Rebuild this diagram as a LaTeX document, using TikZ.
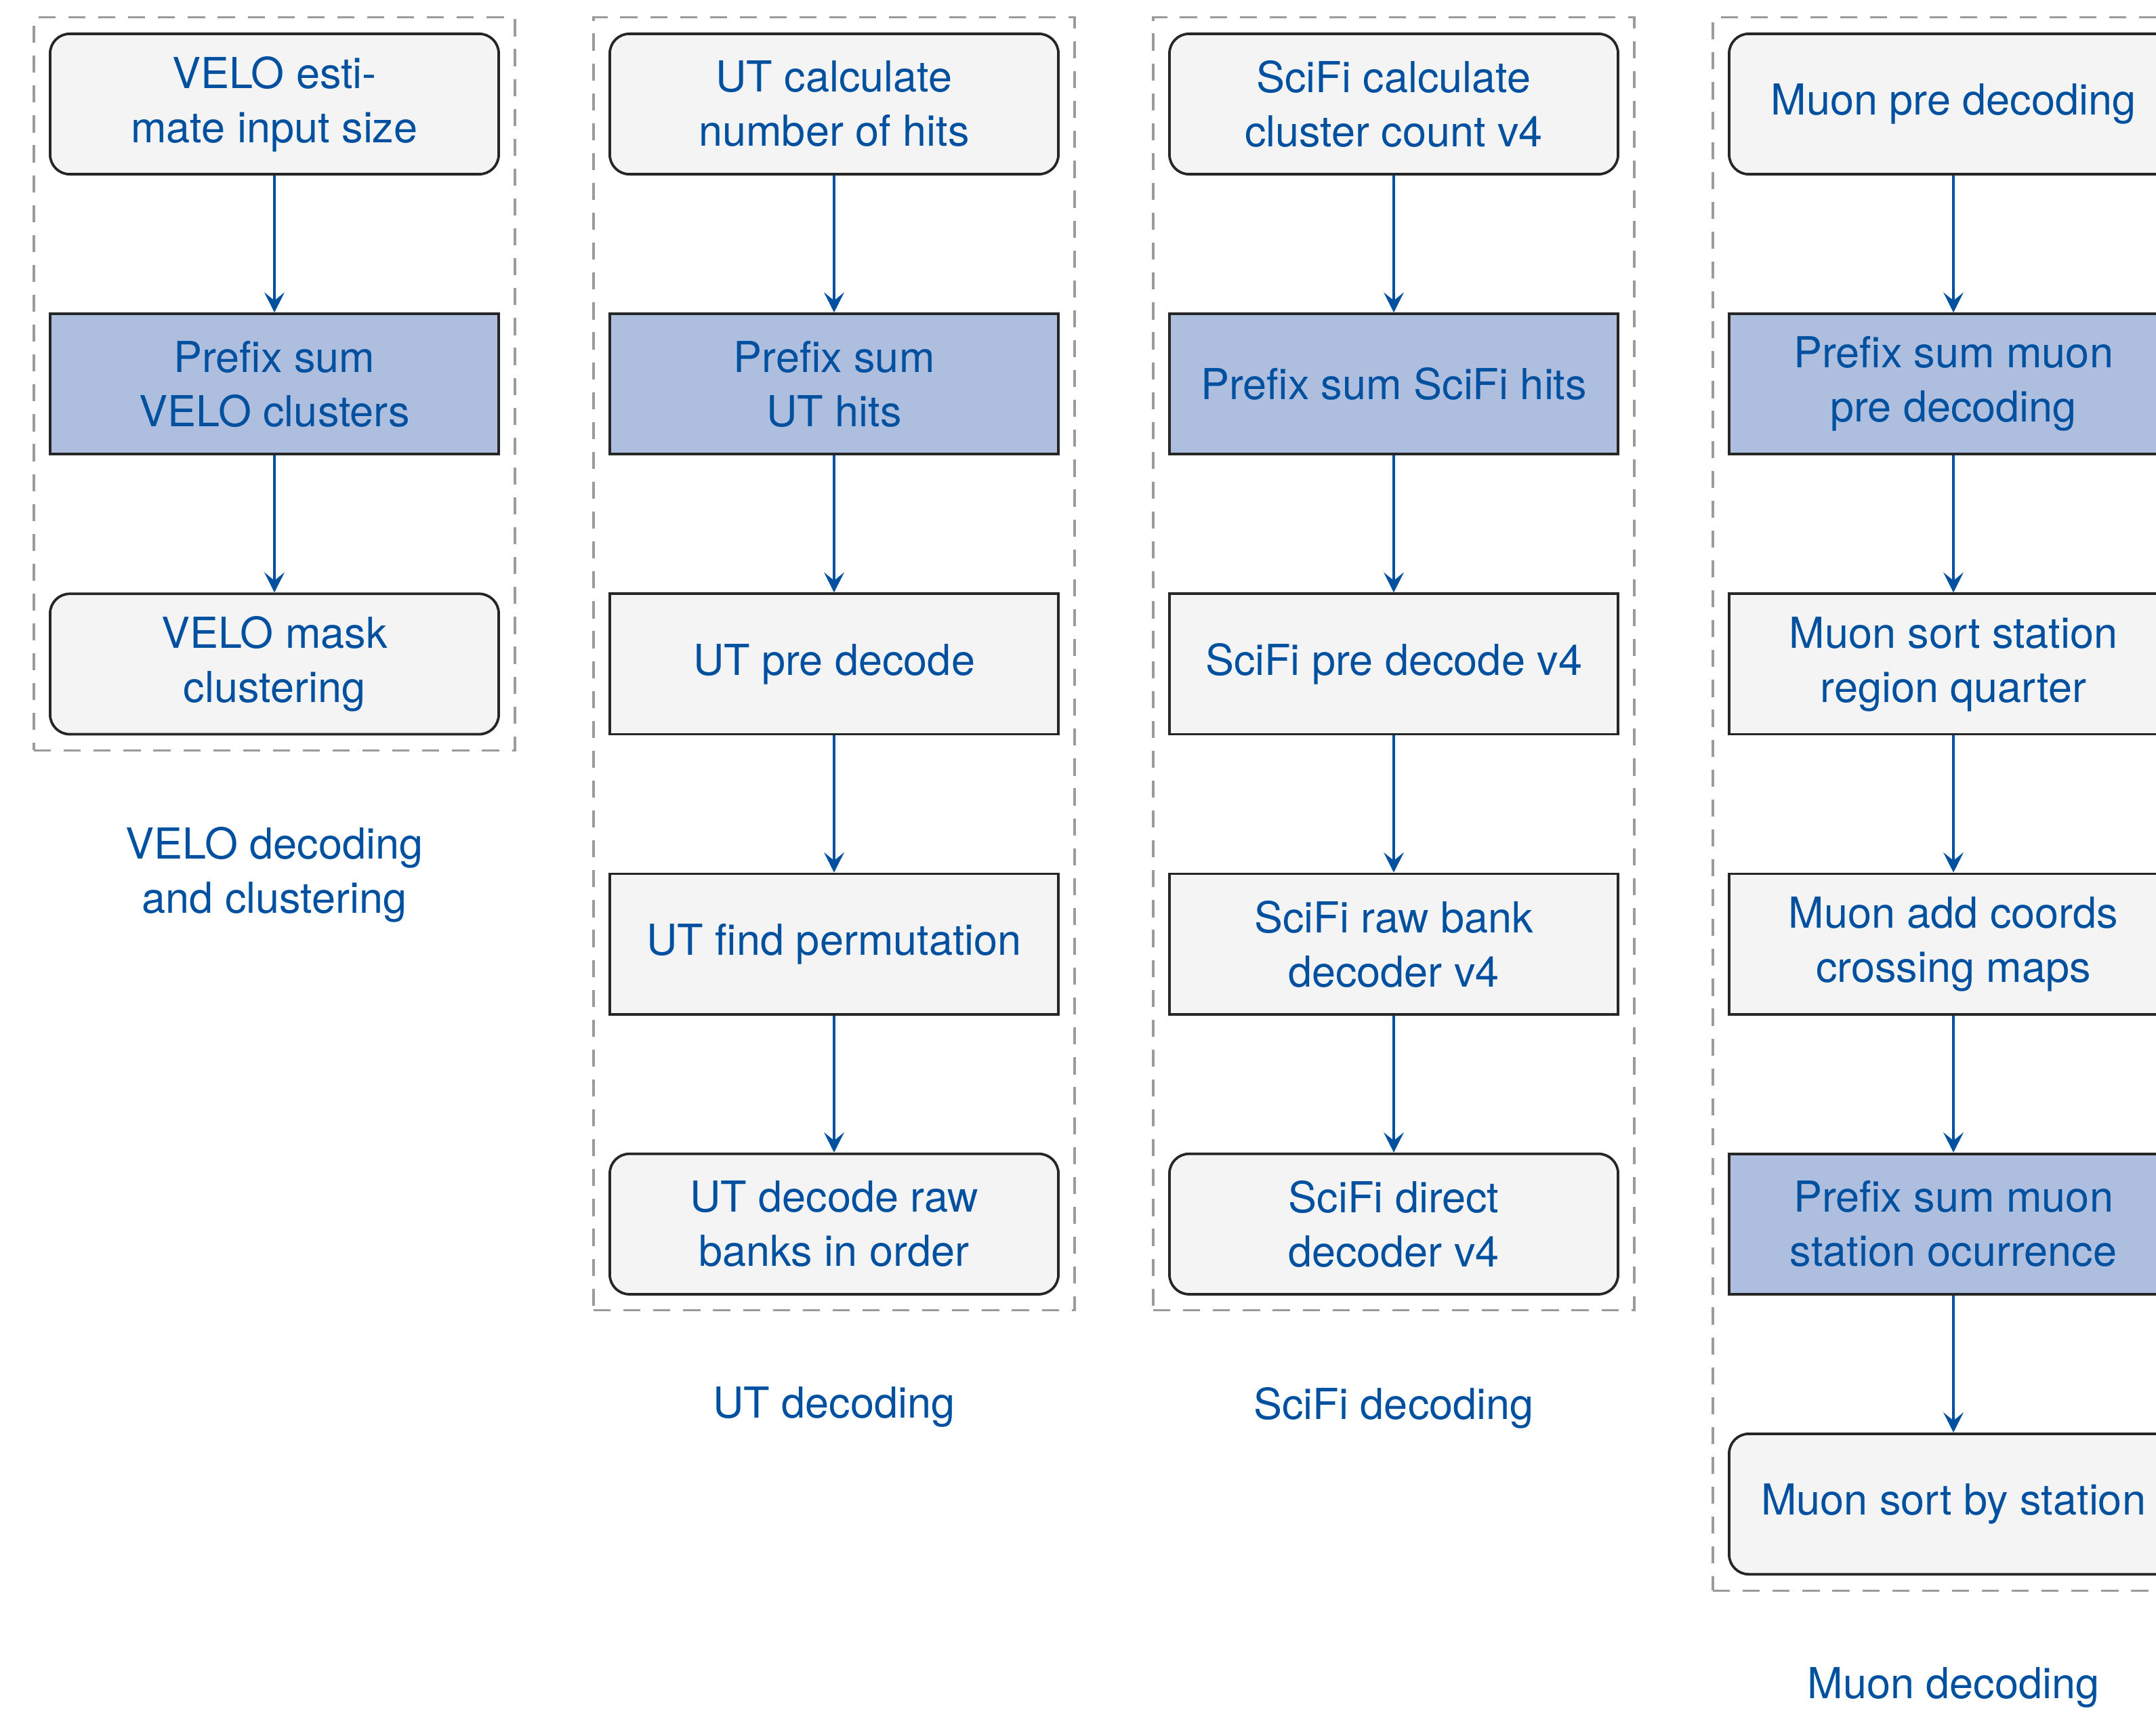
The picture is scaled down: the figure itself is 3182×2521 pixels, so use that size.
\documentclass[tikz,border=0pt]{standalone}
\usepackage{fontspec}
\setmainfont{TeX Gyre Heros}
\usetikzlibrary{arrows.meta,positioning,fit}

\definecolor{txtblue}{RGB}{0,80,160}
\definecolor{boxgray}{RGB}{244,244,244}
\definecolor{sumblue}{RGB}{174,190,223}
\definecolor{framegray}{RGB}{155,155,155}

\tikzset{
  stagebox/.style={draw=black!85, line width=0.6pt, text=txtblue, align=center,
    minimum width=105.1pt, minimum height=32.9pt, inner sep=0pt,
    font=\fontsize{10pt}{12.7pt}\selectfont},
  startbox/.style={stagebox, fill=boxgray, rounded corners=4.6pt},
  midbox/.style={stagebox, fill=boxgray},
  sumbox/.style={stagebox, fill=sumblue},
  flow/.style={draw=txtblue, line width=0.65pt,
    -{Stealth[length=4.7pt, width=4.7pt, inset=1.9pt]}},
  groupframe/.style={draw=framegray, line width=0.5pt, dash pattern=on 4pt off 3pt,
    inner sep=3.5pt},
  grouplabel/.style={text=txtblue, align=center, inner sep=0pt,
    font=\fontsize{10pt}{12.7pt}\selectfont},
}

\begin{document}
\begin{tikzpicture}[x=0.15873pt, y=-0.15873pt]
  \useasboundingbox (0,0) rectangle (3182,2521);

  % VELO decoding and clustering
  \node[startbox] (v1) at (405,153.5) {VELO esti-\\mate input size};
  \node[sumbox]   (v2) at (405,566.7) {Prefix sum\\VELO clusters};
  \node[startbox] (v3) at (405,979.9) {VELO mask\\clustering};
  \draw[flow] (v1) -- (v2);
  \draw[flow] (v2) -- (v3);
  \node[groupframe, fit=(v1)(v3)] (vg) {};
  \node[grouplabel, below=17.5pt of vg] (vl) {VELO decoding\\and clustering};

  % UT decoding
  \node[startbox] (u1) at (1231,153.5) {UT calculate\\number of hits};
  \node[sumbox]   (u2) at (1231,566.7) {Prefix sum\\UT hits};
  \node[midbox]   (u3) at (1231,979.9) {UT pre decode};
  \node[midbox]   (u4) at (1231,1393.1) {UT find permutation};
  \node[startbox] (u5) at (1231,1806.3) {UT decode raw\\banks in order};
  \draw[flow] (u1) -- (u2);
  \draw[flow] (u2) -- (u3);
  \draw[flow] (u3) -- (u4);
  \draw[flow] (u4) -- (u5);
  \node[groupframe, fit=(u1)(u5)] (ug) {};
  \node[grouplabel, below=17.5pt of ug] (ul) {UT decoding};

  % SciFi decoding
  \node[startbox] (s1) at (2057,153.5) {SciFi calculate\\cluster count v4};
  \node[sumbox]   (s2) at (2057,566.7) {Prefix sum SciFi hits};
  \node[midbox]   (s3) at (2057,979.9) {SciFi pre decode v4};
  \node[midbox]   (s4) at (2057,1393.1) {SciFi raw bank\\decoder v4};
  \node[startbox] (s5) at (2057,1806.3) {SciFi direct\\decoder v4};
  \draw[flow] (s1) -- (s2);
  \draw[flow] (s2) -- (s3);
  \draw[flow] (s3) -- (s4);
  \draw[flow] (s4) -- (s5);
  \node[groupframe, fit=(s1)(s5)] (sg) {};
  \node[grouplabel, below=17.5pt of sg] (sl) {SciFi decoding};

  % Muon decoding
  \node[startbox] (m1) at (2883,153.5) {Muon pre decoding};
  \node[sumbox]   (m2) at (2883,566.7) {Prefix sum muon\\pre decoding};
  \node[midbox]   (m3) at (2883,979.9) {Muon sort station\\region quarter};
  \node[midbox]   (m4) at (2883,1393.1) {Muon add coords\\crossing maps};
  \node[sumbox]   (m5) at (2883,1806.3) {Prefix sum muon\\station ocurrence};
  \node[startbox] (m6) at (2883,2219.5) {Muon sort by station};
  \draw[flow] (m1) -- (m2);
  \draw[flow] (m2) -- (m3);
  \draw[flow] (m3) -- (m4);
  \draw[flow] (m4) -- (m5);
  \draw[flow] (m5) -- (m6);
  \node[groupframe, fit=(m1)(m6)] (mg) {};
  \node[grouplabel, below=17.5pt of mg] (ml) {Muon decoding};
\end{tikzpicture}
\end{document}
